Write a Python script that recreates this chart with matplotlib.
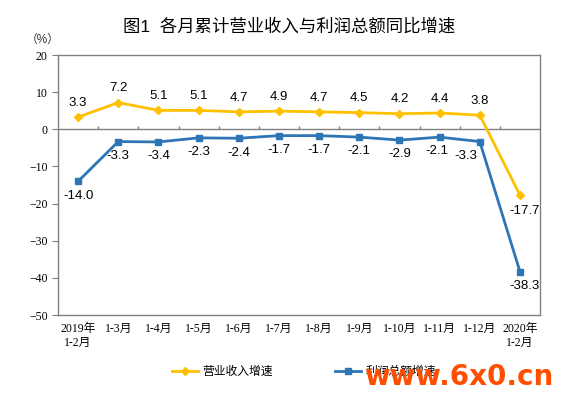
import matplotlib.pyplot as plt

plt.rcParams['font.family'] = ['Liberation Sans', 'Noto Sans CJK SC']

categories = ['2019年\n1-2月', '1-3月', '1-4月', '1-5月', '1-6月', '1-7月', '1-8月',
              '1-9月', '1-10月', '1-11月', '1-12月', '2020年\n1-2月']
revenue = [3.3, 7.2, 5.1, 5.1, 4.7, 4.9, 4.7, 4.5, 4.2, 4.4, 3.8, -17.7]
profit = [-14.0, -3.3, -3.4, -2.3, -2.4, -1.7, -1.7, -2.1, -2.9, -2.1, -3.3, -38.3]

yellow = '#FFC000'
blue = '#2E75B6'
tick_font = ['Liberation Serif', 'Noto Sans CJK SC']

fig = plt.figure(figsize=(5.66, 3.96), dpi=100)
ax = fig.add_axes([0.1025, 0.2045, 0.8516, 0.6565])

x = list(range(len(categories)))
ax.plot(x, revenue, color=yellow, lw=2, marker='D', ms=4.5, label='营业收入增速', zorder=3)
ax.plot(x, profit, color=blue, lw=2, marker='s', ms=4, label='利润总额增速', zorder=3)

# data labels
for i, v in enumerate(revenue):
    if v < 0:
        ax.annotate(f'{v:.1f}', (i, v), xytext=(3, -7), textcoords='offset points',
                    ha='center', va='top', fontsize=9.5)
    else:
        ax.annotate(f'{v:.1f}', (i, v), xytext=(0, 6), textcoords='offset points',
                    ha='center', va='bottom', fontsize=9.5)
for i, v in enumerate(profit):
    dx = 0
    if i == len(profit) - 1:
        dx = 3
    elif i == len(profit) - 2:
        dx = -10
    elif i == len(profit) - 3:
        dx = -2
    ax.annotate(f'{v:.1f}', (i, v), xytext=(dx, -6), textcoords='offset points',
                ha='center', va='top', fontsize=9.5)

ax.set_xlim(-0.5, len(categories) - 0.5)
ax.set_ylim(-50, 20)
ax.set_yticks(range(-50, 21, 10))
ax.tick_params(axis='y', direction='out', length=4, color='#808080', labelsize=8.5)
for lbl in ax.get_yticklabels():
    lbl.set_family(tick_font)
ax.set_xticks(x)
ax.set_xticklabels(categories, family=tick_font, fontsize=8.5, linespacing=1.2)
ax.tick_params(axis='x', length=0, pad=6)

# zero line with category boundary ticks
ax.axhline(0, color='#808080', lw=1, zorder=2)
ax.vlines([i + 0.5 for i in x[:-1]], 0, 1.0, color='#808080', lw=1, zorder=2)

for s in ax.spines.values():
    s.set_color('#808080')
    s.set_linewidth(1)

fig.text(0.075, 0.885, '（%）', fontsize=8.5, ha='center', va='bottom', color='#333333')
fig.suptitle('图1  各月累计营业收入与利润总额同比增速', x=0.51, y=0.955, fontsize=12.5)

ax.legend(loc='upper center', bbox_to_anchor=(0.51, -0.155), ncol=2, frameon=False,
          fontsize=8.5, handlelength=2.2, handletextpad=0.4, columnspacing=5.2)

fig.text(0.978, 0.012, 'www.6x0.cn', color='#FF4E00', fontsize=20, fontweight='bold',
         ha='right', va='bottom', family='DejaVu Sans')

fig.savefig('out.png', dpi=100)
